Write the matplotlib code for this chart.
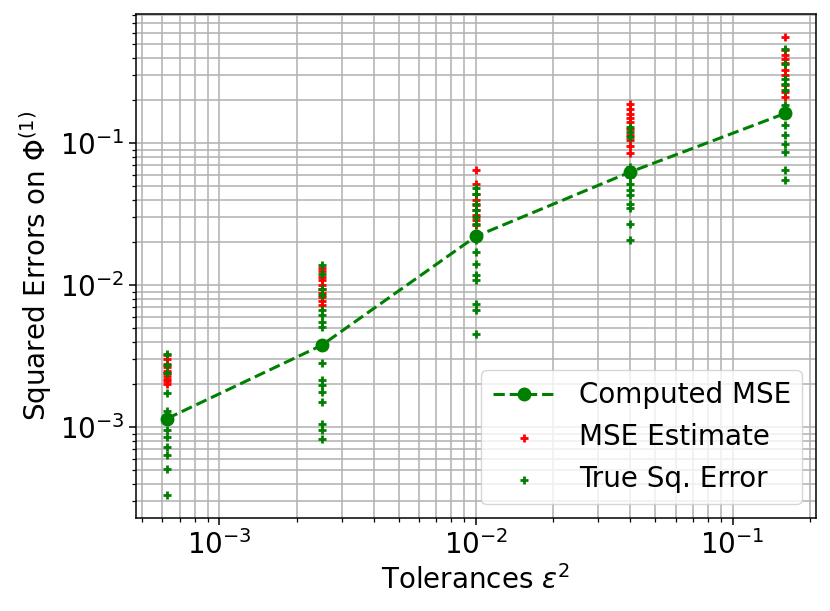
import numpy as np
import matplotlib
matplotlib.use("Agg")
import matplotlib.pyplot as plt

# tolerances eps^2
tols = [0.000625, 0.0025, 0.01, 0.04, 0.16]

# computed MSE per tolerance
mse = [1.15e-3, 3.77e-3, 2.21e-2, 6.28e-2, 0.162]

# MSE estimates (red) per tolerance
est1 = [3.2e-3, 3.0e-3, 2.8e-3, 2.65e-3, 2.5e-3, 2.4e-3, 2.3e-3, 2.2e-3, 2.1e-3, 2.0e-3]
est2 = [1.32e-2, 1.25e-2, 1.15e-2, 1.08e-2, 1.0e-2, 9.4e-3, 8.8e-3, 8.2e-3, 7.7e-3, 7.2e-3]
est3 = [6.45e-2, 5.2e-2, 4.4e-2, 4.0e-2, 3.7e-2, 3.4e-2, 3.1e-2, 2.9e-2, 2.65e-2]
est4 = [0.19, 0.175, 0.16, 0.15, 0.14, 0.125, 0.115, 0.105, 0.095, 0.085]
est5 = [0.56, 0.45, 0.42, 0.39, 0.37, 0.33, 0.30, 0.256, 0.23, 0.21]

# true squared errors (green) per tolerance
err1 = [3.30e-3, 2.73e-3, 2.39e-3, 1.73e-3, 1.3e-3, 9.53e-4, 8.55e-4, 7.2e-4, 6.35e-4,
        5.12e-4, 3.32e-4]
err2 = [1.38e-2, 1.2e-2, 9.48e-3, 8.51e-3, 6.67e-3, 6.15e-3, 5.52e-3, 5.09e-3, 2.81e-3,
        2.14e-3, 1.98e-3, 1.77e-3, 1.51e-3, 1.06e-3, 9.5e-4, 8.3e-4]
err3 = [4.8e-2, 4.4e-2, 3.76e-2, 3.37e-2, 3.03e-2, 2.72e-2, 2.07e-2, 1.72e-2, 1.42e-2,
        1.18e-2, 1.08e-2, 7.43e-3, 6.67e-3, 4.57e-3]
err4 = [0.130, 0.120, 0.111, 0.068, 0.058, 0.052, 0.0467, 0.043, 0.0376, 0.0347,
        0.0272, 0.0207]
err5 = [0.464, 0.364, 0.285, 0.263, 0.236, 0.185, 0.134, 0.114, 0.0995, 0.0869,
        0.0645, 0.0548]

ests = [est1, est2, est3, est4, est5]
errs = [err1, err2, err3, err4, err5]

est_x = np.concatenate([[t] * len(e) for t, e in zip(tols, ests)])
est_y = np.concatenate(ests)
err_x = np.concatenate([[t] * len(e) for t, e in zip(tols, errs)])
err_y = np.concatenate(errs)

FS = 20
fig = plt.figure(figsize=(8.3, 6.11), dpi=100)
ax = fig.add_axes([0.164, 0.152, 0.819, 0.825])

ax.plot(tols, mse, "g--o", lw=2.2, ms=9, label="Computed MSE")
ax.scatter(est_x, est_y, marker="+", c="r", s=30, linewidths=2, label="MSE Estimate")
ax.scatter(err_x, err_y, marker="+", c="g", s=30, linewidths=2, label="True Sq. Error")

ax.set_xscale("log")
ax.set_yscale("log")
ax.grid(True, which="both", lw=1.1)
ax.set_axisbelow(True)

ax.set_xlabel(r"Tolerances $\varepsilon^2$", fontsize=FS)
ax.set_ylabel(r"Squared Errors on $\Phi^{(1)}$", fontsize=FS)
ax.tick_params(which="major", labelsize=FS, length=5, width=1.1)
ax.tick_params(which="minor", length=3, width=0.9)
for sp in ax.spines.values():
    sp.set_linewidth(1.1)

ax.legend(loc="lower right", fontsize=FS, handlelength=2.3)

fig.savefig("out.png", dpi=100)
